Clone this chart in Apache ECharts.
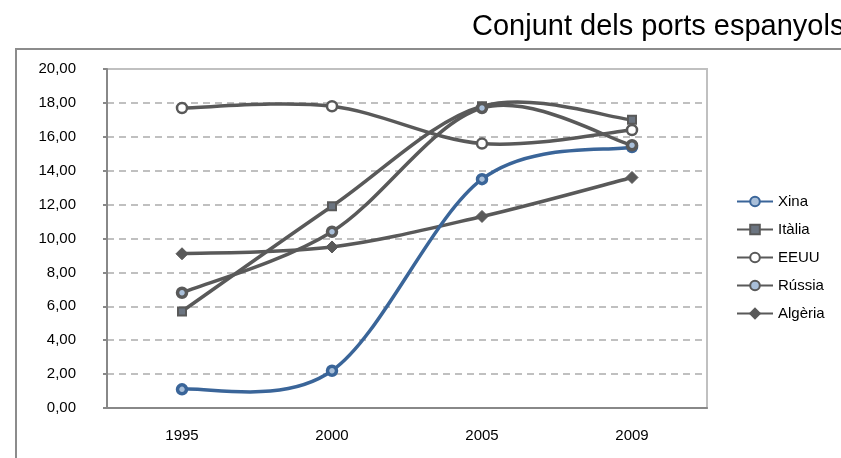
<!DOCTYPE html>
<html>
<head>
<meta charset="utf-8">
<script src="https://cdn.jsdelivr.net/npm/echarts@6/dist/echarts.min.js"></script>
<style>
html, body { margin: 0; padding: 0; background: #fff; }
#chart { width: 841px; height: 458px; }
</style>
</head>
<body>
<div id="chart"></div>
<script>
var years = ['1995', '2000', '2005', '2009'];
var xina = [1.1, 2.2, 13.5, 15.4];
var italia = [5.7, 11.9, 17.8, 17.0];
var eeuu = [17.7, 17.8, 15.6, 16.4];
var russia = [6.8, 10.4, 17.7, 15.5];
var algeria = [9.1, 9.5, 11.3, 13.6];

var grey = '#595959';
var blue = '#3a6599';
var font = 'Liberation Sans, Arial, sans-serif';

// markers only, the curve itself is drawn by curveSeries (Excel-like smoothing)
function markerSeries(name, data, color, symbol, size, fill, border) {
    return {
        name: name,
        type: 'line',
        data: data,
        z: 3,
        symbol: symbol,
        symbolSize: size,
        lineStyle: { color: color, width: 3.5, opacity: 0 },
        itemStyle: { color: fill, borderColor: color, borderWidth: border },
        emphasis: { disabled: true }
    };
}

function curveSeries(name, values, color) {
    return {
        name: name + '_curve',
        type: 'custom',
        z: 2,
        silent: true,
        data: values.map(function (v, i) { return [i, v]; }),
        encode: { x: 0, y: 1 },
        renderItem: function (params, api) {
            if (params.dataIndex !== 0) return;
            var pts = values.map(function (v, i) { return api.coord([i, v]); });
            var n = pts.length;
            var children = [];
            for (var i = 0; i < n - 1; i++) {
                var p0 = pts[Math.max(i - 1, 0)];
                var p1 = pts[i];
                var p2 = pts[i + 1];
                var p3 = pts[Math.min(i + 2, n - 1)];
                children.push({
                    type: 'bezierCurve',
                    shape: {
                        x1: p1[0], y1: p1[1],
                        x2: p2[0], y2: p2[1],
                        cpx1: p1[0] + (p2[0] - p0[0]) / 6,
                        cpy1: p1[1] + (p2[1] - p0[1]) / 6,
                        cpx2: p2[0] - (p3[0] - p1[0]) / 6,
                        cpy2: p2[1] - (p3[1] - p1[1]) / 6
                    },
                    style: { fill: null, stroke: color, lineWidth: 3.5, lineCap: 'round' }
                });
            }
            return { type: 'group', children: children };
        }
    };
}

var chartDom = document.getElementById('chart');
var myChart = echarts.init(chartDom);
var option;

option = {
    animation: false,
    backgroundColor: '#fff',
    title: {
        text: 'Conjunt dels ports espanyols',
        left: 472,
        top: 12,
        padding: 0,
        textStyle: { fontFamily: font, fontSize: 29, fontWeight: 'normal', color: '#000' }
    },
    graphic: [{
        type: 'rect',
        shape: { x: 16, y: 49, width: 900, height: 500 },
        style: { fill: null, stroke: '#8c8c8c', lineWidth: 2 },
        silent: true
    }],
    legend: {
        orient: 'vertical',
        left: 731,
        top: 189,
        itemWidth: 36,
        itemHeight: 12,
        itemGap: 13,
        textStyle: { fontFamily: font, fontSize: 15, color: '#000' },
        data: [
            { name: 'Xina', lineStyle: { opacity: 1 } },
            { name: 'Itàlia', lineStyle: { opacity: 1 } },
            { name: 'EEUU', lineStyle: { opacity: 1 } },
            { name: 'Rússia', lineStyle: { opacity: 1 } },
            { name: 'Algèria', lineStyle: { opacity: 1 } }
        ]
    },
    grid: {
        left: 107,
        top: 69,
        right: 134,
        bottom: 50,
        show: true,
        borderColor: '#c0c0c0',
        borderWidth: 2,
        outerBoundsMode: 'none'
    },
    xAxis: {
        type: 'category',
        data: years,
        boundaryGap: true,
        axisLine: { lineStyle: { color: '#888', width: 2 } },
        axisTick: { length: 5, lineStyle: { color: '#888', width: 2 } },
        axisLabel: { margin: 20, fontFamily: font, fontSize: 15, color: '#000' },
        splitLine: { show: false }
    },
    yAxis: {
        type: 'value',
        min: 0,
        max: 20,
        interval: 2,
        axisLine: { show: true, lineStyle: { color: '#888', width: 2 } },
        axisTick: { show: true, length: 4, lineStyle: { color: '#888', width: 2 } },
        axisLabel: {
            margin: 31,
            fontFamily: font,
            fontSize: 15,
            color: '#000',
            formatter: function (v) { return v.toFixed(2).replace('.', ','); }
        },
        splitLine: { lineStyle: { color: '#c0c0c0', width: 2, type: [7, 5] } }
    },
    series: [
        markerSeries('Xina', xina, blue, 'circle', 9, '#a9bfd9', 3.5),
        markerSeries('Itàlia', italia, grey, 'rect', 8, '#6b7480', 2),
        markerSeries('EEUU', eeuu, grey, 'circle', 10, '#fff', 2.5),
        markerSeries('Rússia', russia, grey, 'circle', 9, '#a9bfd9', 3.5),
        markerSeries('Algèria', algeria, grey, 'diamond', 12, grey, 1),
        curveSeries('Itàlia', italia, grey),
        curveSeries('EEUU', eeuu, grey),
        curveSeries('Rússia', russia, grey),
        curveSeries('Algèria', algeria, grey),
        curveSeries('Xina', xina, blue)
    ]
};

option && myChart.setOption(option);
window.addEventListener("resize", function () {
    myChart.resize();
});
</script>
</body>
</html>
